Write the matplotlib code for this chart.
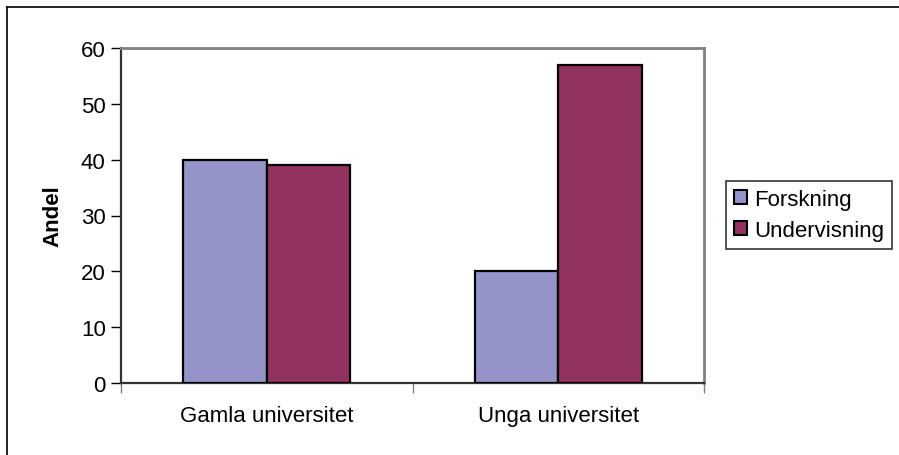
import matplotlib
matplotlib.use("Agg")
import matplotlib.pyplot as plt
from matplotlib.lines import Line2D
import numpy as np

categories = ["Gamla universitet", "Unga universitet"]
series_names = ["Forskning", "Undervisning"]
forskning = [40, 20]
undervisning = [39, 57]
yticks = [0, 10, 20, 30, 40, 50, 60]

plt.rcParams['font.family'] = ['Liberation Sans', 'DejaVu Sans']

W, H = 899, 456
FS = 16
fig = plt.figure(figsize=(W/100, H/100), dpi=100)
ax = fig.add_axes([121/W, 1-384/H, (704-121)/W, (384-49)/H])

x = np.arange(len(categories))
bw = 1/3.5
colors = ["#9494C8", "#913260"]
ax.bar(x - bw/2, forskning, bw, color=colors[0], edgecolor="black", linewidth=1.6, label=series_names[0], zorder=3)
ax.bar(x + bw/2, undervisning, bw, color=colors[1], edgecolor="black", linewidth=1.6, label=series_names[1], zorder=3)

ax.set_xlim(-0.5, len(categories)-0.5)
ax.set_ylim(0, 60)
ax.set_yticks(yticks)
ax.set_yticklabels([str(v) for v in yticks], fontsize=FS)
ax.tick_params(axis='y', direction='out', length=7, width=1, color='black', pad=4)

ax.set_xticks(np.arange(-0.5, len(categories)), minor=False)
ax.set_xticklabels([])
ax.tick_params(axis='x', which='major', direction='out', length=7, width=1, color='#808080')
ax.set_xticks(x, minor=True)
ax.set_xticklabels(categories, minor=True, fontsize=FS)
ax.tick_params(axis='x', which='minor', length=0, pad=16)

for s in ['top', 'right']:
    ax.spines[s].set_color('#808080')
    ax.spines[s].set_linewidth(2)
ax.spines['left'].set_color('#333333')
ax.spines['left'].set_linewidth(1.6)
ax.spines['bottom'].set_color('#333333')
ax.spines['bottom'].set_linewidth(1.6)

ax.set_ylabel("Andel", fontsize=FS, fontweight='bold')
ax.yaxis.set_label_coords((63-121)/(704-121), 0.5)

leg = fig.legend(loc='center left', bbox_to_anchor=(726/W, 1-216/H), fontsize=FS,
                 frameon=True, fancybox=False, edgecolor='black',
                 handlelength=0.6, handleheight=0.6, handletextpad=0.3,
                 borderpad=0.35, labelspacing=0.45, borderaxespad=0)
leg.get_frame().set_linewidth(1.2)
for h in leg.legend_handles:
    h.set_linewidth(1.5)

fig.add_artist(Line2D([6.5/W, 6.5/W], [0, 1-7.5/H], transform=fig.transFigure, color='black', lw=1.2))
fig.add_artist(Line2D([6.5/W, 1], [1-7.5/H, 1-7.5/H], transform=fig.transFigure, color='black', lw=1.2))

fig.savefig("out.png", dpi=100)
